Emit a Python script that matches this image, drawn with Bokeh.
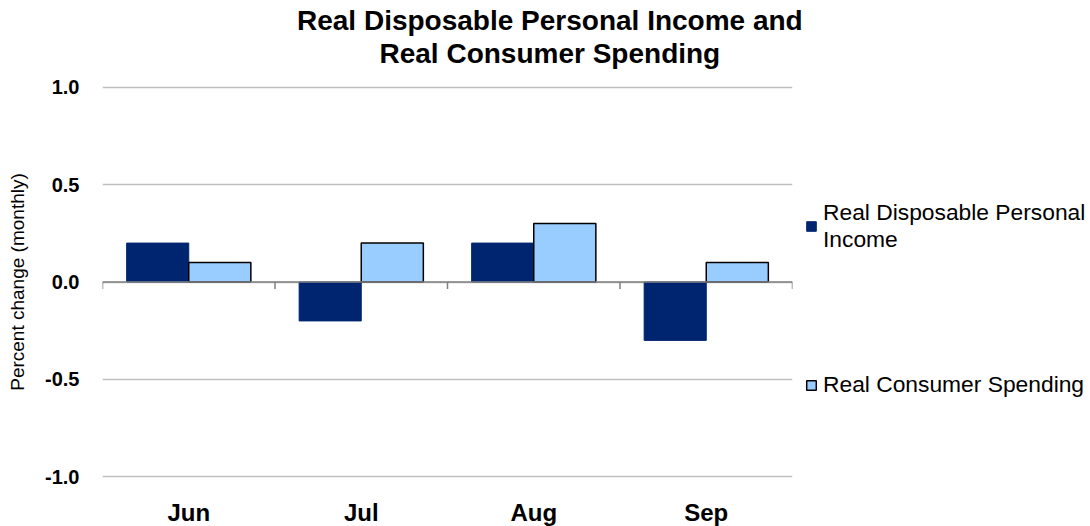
import numpy as np
from bokeh.plotting import figure
from bokeh.models import (Range1d, FixedTicker, NumeralTickFormatter, Span, Title,
                          Legend, LegendItem, ColumnDataSource)
from bokeh.embed import file_html
from bokeh.resources import INLINE

months = ["Jun", "Jul", "Aug", "Sep"]
income = [0.2, -0.2, 0.2, -0.3]
spending = [0.1, 0.2, 0.3, 0.1]
y_ticks = [-1.0, -0.5, 0.0, 0.5, 1.0]
title_lines = ["Real Disposable Personal Income and", "Real Consumer Spending"]
series_names = ["Real Disposable Personal\nIncome", "Real Consumer Spending"]

FONT = "Liberation Sans"
DARK = "#002570"
LIGHT = "#99ccff"

n = len(months)
idx = np.arange(n)
bar_w = 0.36
src = ColumnDataSource(dict(
    x_inc=idx + 0.5 - bar_w / 2,
    x_sp=idx + 0.5 + bar_w / 2,
    income=income,
    spending=spending,
))

p = figure(frame_width=690, frame_height=397,
           min_border_left=102, min_border_right=296,
           min_border_top=83, min_border_bottom=46,
           x_range=Range1d(0, n), y_range=Range1d(-1.02, 1.02),
           output_backend="svg", toolbar_location=None,
           background_fill_color="white", border_fill_color="white")
p.outline_line_color = None

r_inc = p.vbar(x="x_inc", top="income", bottom=0, width=bar_w, source=src,
               fill_color=DARK, line_color=DARK, line_width=1)
r_sp = p.vbar(x="x_sp", top="spending", bottom=0, width=bar_w, source=src,
              fill_color=LIGHT, line_color="black", line_width=1.5)

# zero line with category boundary ticks
p.add_layout(Span(location=0, dimension="width", line_color="#808080", line_width=1.5))
bounds = np.arange(n + 1)
p.segment(x0=bounds, x1=bounds, y0=np.zeros(n + 1), y1=np.full(n + 1, -0.036),
          line_color="#808080", line_width=1.5)

# y axis
p.yaxis.ticker = FixedTicker(ticks=y_ticks)
p.yaxis.formatter = NumeralTickFormatter(format="0.0")
p.yaxis.axis_line_color = None
p.yaxis.major_tick_line_color = None
p.yaxis.minor_tick_line_color = None
p.yaxis.major_label_standoff = 17
p.yaxis.major_label_text_font = FONT
p.yaxis.major_label_text_font_style = "bold"
p.yaxis.major_label_text_font_size = "20px"
p.yaxis.major_label_text_color = "black"
p.yaxis.axis_label = "Percent change (monthly)"
p.yaxis.axis_label_text_font = FONT
p.yaxis.axis_label_text_font_style = "normal"
p.yaxis.axis_label_text_font_size = "19px"
p.yaxis.axis_label_text_color = "black"
p.yaxis.axis_label_standoff = 14

# x axis: category names at bottom
p.xaxis.ticker = FixedTicker(ticks=list(idx + 0.5))
p.xaxis.major_label_overrides = {float(i + 0.5): m for i, m in enumerate(months)}
p.xaxis.axis_line_color = None
p.xaxis.major_tick_line_color = None
p.xaxis.minor_tick_line_color = None
p.xaxis.major_label_standoff = 12
p.xaxis.major_label_text_font = FONT
p.xaxis.major_label_text_font_style = "bold"
p.xaxis.major_label_text_font_size = "24px"
p.xaxis.major_label_text_color = "black"

p.xgrid.grid_line_color = None
p.ygrid.ticker = FixedTicker(ticks=y_ticks)
p.ygrid.grid_line_color = "#c0c0c0"
p.ygrid.grid_line_width = 1.5

# spacer between frame and title block
p.add_layout(Title(text=" ", text_font_size="2px", standoff=11), "above")

# title: two lines centred on the page width (above panel spans the frame,
# so shift with a left offset)
title_size = 28
title_center = 549 - 102          # page centre relative to frame left
approx_w = [505, 340]             # approximate rendered widths of the lines
for t, w in reversed(list(zip(title_lines, approx_w))):
    p.add_layout(Title(text=t, text_font=FONT, text_font_style="bold",
                       text_font_size=f"{title_size}px", align="left",
                       offset=title_center - w / 2,
                       standoff=0, text_color="black"), "above")

legend = Legend(items=[LegendItem(label=series_names[0], renderers=[r_inc]),
                       LegendItem(label=series_names[1], renderers=[r_sp])],
                location=(13, 82), orientation="vertical",
                padding=0, margin=0, spacing=118,
                glyph_width=12, glyph_height=12, label_standoff=6,
                label_text_font=FONT, label_text_font_size="22.8px",
                label_text_line_height=0.95, label_text_color="black",
                border_line_alpha=0, background_fill_alpha=0)
p.add_layout(legend, "right")

open("out.html", "w").write(file_html(p, INLINE))
